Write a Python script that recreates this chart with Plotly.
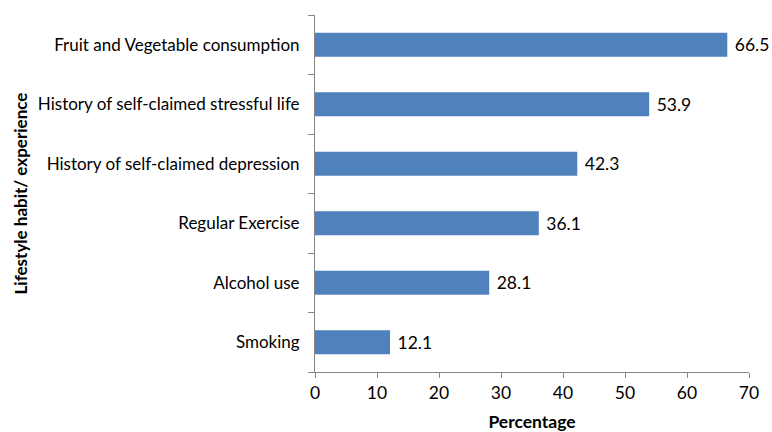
import plotly.graph_objects as go

categories = ["Smoking", "Alcohol use", "Regular Exercise", "History of self-claimed depression",
              "History of self-claimed stressful life", "Fruit and Vegetable consumption"]
values = [12.1, 28.1, 36.1, 42.3, 53.9, 66.5]
labels = ["12.1", "28.1", "36.1", "42.3", "53.9", "66.5"]

font = "Lato"
fig = go.Figure(go.Bar(
    x=values, y=categories, orientation="h",
    marker=dict(color="#4F81BD", line=dict(width=0)),
    width=0.4,
    text=labels, texttemplate=" %{text}", textposition="outside", cliponaxis=False,
    textfont=dict(family=font, size=17.5, color="#000000"),
))
fig.update_layout(
    width=772, height=432,
    margin=dict(l=315, r=23, t=15, b=60),
    plot_bgcolor="white", paper_bgcolor="white",
    showlegend=False,
    font=dict(family=font, size=17.5, color="#000000"),
    xaxis=dict(range=[0, 70], dtick=10, showgrid=False, zeroline=False, automargin=False,
               showline=True, linecolor="#868686", linewidth=1,
               ticks="outside", ticklen=5, tickcolor="#868686",
               title=dict(text="<b>Percentage</b>", font=dict(size=17.5), standoff=14)),
    yaxis=dict(type="category", showgrid=False, zeroline=False, automargin=False,
               showline=True, linecolor="#868686", linewidth=1,
               ticks="outside", ticklen=6, tickcolor="#868686", tickson="boundaries",
               ticklabelstandoff=11, tickfont=dict(size=17)),
    annotations=[dict(text="<b>Lifestyle habit/ experience</b>", textangle=-90,
                      xref="paper", yref="paper", x=(20 - 315) / 434, y=0.5,
                      xanchor="center", yanchor="middle", showarrow=False,
                      font=dict(family=font, size=17, color="#000000"))],
)
fig.write_html("out.html")
